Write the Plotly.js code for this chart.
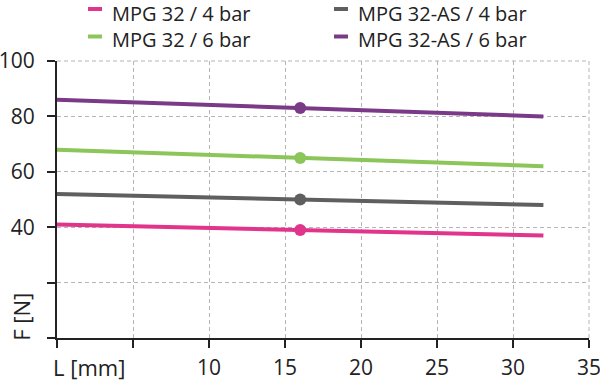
<!DOCTYPE html>
<html>
<head>
<meta charset="utf-8">
<script src="https://cdn.plot.ly/plotly-3.0.1.min.js"></script>
<style>
html,body{margin:0;padding:0;background:#fff;}
#chart{width:600px;height:381px;}
</style>
</head>
<body>
<div id="chart"></div>
<script>
// Data
const strokeLength = [0, 16, 32];            // L [mm]
const mpg32_4bar   = [41, 39, 37];           // F [N]
const mpg32as_4bar = [52, 50, 48];
const mpg32_6bar   = [68, 65, 62];
const mpg32as_6bar = [86, 83, 80];
const markerL = [16];
const markerPg32_4  = [39];
const markerPg32as_4 = [50];
const markerPg32_6  = [65];
const markerPg32as_6 = [83];

const seriesNames = ['MPG 32 / 4 bar', 'MPG 32-AS / 4 bar', 'MPG 32 / 6 bar', 'MPG 32-AS / 6 bar'];
const seriesColors = ['#e0358a', '#5f5f5f', '#8cc55a', '#7b3a87'];

const xTickVals = [0, 5, 10, 15, 20, 25, 30, 35];
const xTickText = ['', '', '10', '15', '20', '25', '30', '35'];
const yTickVals = [0, 20, 40, 60, 80, 100];
const yTickText = ['', '', '40', '60', '80', '100'];

const lineSeries = [mpg32_4bar, mpg32as_4bar, mpg32_6bar, mpg32as_6bar];
const markerSeries = [markerPg32_4, markerPg32as_4, markerPg32_6, markerPg32as_6];

const FONT = '"Open Sans", "DejaVu Sans", sans-serif';

// plot geometry (pixels) used to place the legend in the top margin
const W = 600, H = 381, ML = 57, MR = 11, MT = 61, MB = 43;
const PW = W - ML - MR, PH = H - MT - MB;
const px = x => (x - ML) / PW;
const py = y => (H - MB - y) / PH;

const traces = [];
lineSeries.forEach((ys, i) => {
  traces.push({
    x: strokeLength, y: ys, type: 'scatter', mode: 'lines',
    name: seriesNames[i],
    line: {color: seriesColors[i], width: 4},
    hoverinfo: 'skip', showlegend: false
  });
});
markerSeries.forEach((ys, i) => {
  traces.push({
    x: markerL, y: ys, type: 'scatter', mode: 'markers',
    showlegend: false,
    marker: {color: seriesColors[i], size: 12},
    hoverinfo: 'skip'
  });
});

// legend entries: 2 columns x 2 rows (order: pink, gray / green, purple)
const legCols = [{s0: 88, s1: 102, t: 110}, {s0: 334, s1: 348, t: 356}];
const legRows = [{line: 9, text: 13.5}, {line: 36.5, text: 39}];
const shapes = [
  {type: 'line', xref: 'paper', yref: 'paper', x0: 0, x1: 1, y0: 1, y1: 1,
   line: {color: '#b5b5b5', width: 1, dash: '4px,3px'}, layer: 'below'},
  {type: 'line', xref: 'paper', yref: 'paper', x0: 1, x1: 1, y0: 0, y1: 1,
   line: {color: '#b5b5b5', width: 1, dash: '4px,3px'}, layer: 'below'}
];
const annotations = [
  {text: 'L [mm]', xref: 'paper', yref: 'paper', x: 0.06, y: -0.105,
   xanchor: 'center', yanchor: 'middle', showarrow: false,
   font: {family: FONT, size: 22, color: '#222'}},
  {text: 'F [N]', xref: 'paper', yref: 'paper', x: -0.068, y: 0.076,
   xanchor: 'center', yanchor: 'middle', showarrow: false, textangle: -90,
   font: {family: FONT, size: 22, color: '#222'}}
];
seriesNames.forEach((name, i) => {
  const c = legCols[i % 2], r = legRows[Math.floor(i / 2)];
  shapes.push({type: 'line', xref: 'paper', yref: 'paper',
    x0: px(c.s0), x1: px(c.s1), y0: py(r.line), y1: py(r.line),
    line: {color: seriesColors[i], width: 4}});
  annotations.push({text: name, xref: 'paper', yref: 'paper',
    x: px(c.t), y: py(r.text), xanchor: 'left', yanchor: 'middle',
    showarrow: false, font: {family: FONT, size: 20, color: '#222'}});
});

const layout = {
  width: W, height: H,
  margin: {l: ML, r: MR, t: MT, b: MB},
  paper_bgcolor: '#fff', plot_bgcolor: '#fff',
  font: {family: FONT, size: 21, color: '#222'},
  showlegend: false,
  xaxis: {
    range: [0, 35], tickvals: xTickVals, ticktext: xTickText,
    showgrid: true, gridcolor: '#b5b5b5', gridwidth: 1, griddash: '4px,3px',
    zeroline: false, showline: true, linecolor: '#222', linewidth: 2,
    ticks: 'outside', ticklen: 8, tickwidth: 2, tickcolor: '#222',
    ticklabelstandoff: 2, ticklabeloverflow: 'allow',
    tickfont: {family: FONT, size: 21, color: '#222'},
    automargin: false,
    fixedrange: true
  },
  yaxis: {
    range: [0, 100], tickvals: yTickVals, ticktext: yTickText,
    showgrid: true, gridcolor: '#b5b5b5', gridwidth: 1, griddash: '4px,3px',
    zeroline: false, showline: true, linecolor: '#222', linewidth: 2,
    ticks: 'outside', ticklen: 8, tickwidth: 2, tickcolor: '#222',
    ticklabelstandoff: 8, ticklabeloverflow: 'allow',
    tickfont: {family: FONT, size: 21, color: '#222'},
    automargin: false,
    fixedrange: true
  },
  shapes: shapes,
  annotations: annotations
};

Plotly.newPlot('chart', traces, layout, {staticPlot: true, displayModeBar: false});
</script>
</body>
</html>
